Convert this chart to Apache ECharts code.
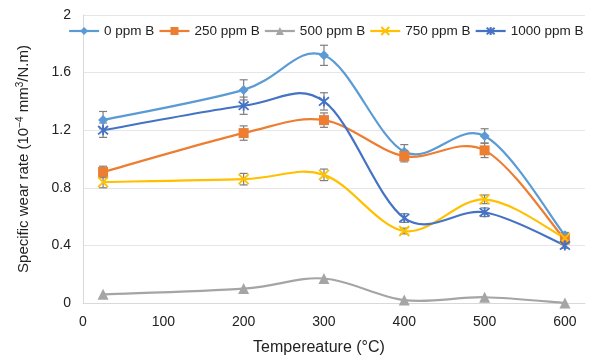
<!DOCTYPE html>
<html>
<head>
<meta charset="utf-8">
<script src="https://cdn.jsdelivr.net/npm/echarts@6/dist/echarts.min.js"></script>
<style>
html, body { margin: 0; padding: 0; background: #fff; }
#chart { width: 596px; height: 363px; }
</style>
</head>
<body>
<div id="chart"></div>
<script>
// temperatures (°C)
var temps = [25, 200, 300, 400, 500, 600];
var seriesNames = ['0 ppm B', '250 ppm B', '500 ppm B', '750 ppm B', '1000 ppm B'];

// specific wear rate (10^-4 mm3/N.m)
var wear0 = [1.27, 1.48, 1.72, 1.05, 1.16, 0.47];
var wear250 = [0.91, 1.18, 1.27, 1.02, 1.06, 0.44];
var wear500 = [0.06, 0.10, 0.17, 0.02, 0.04, 0.00];
var wear750 = [0.84, 0.86, 0.89, 0.50, 0.72, 0.45];
var wear1000 = [1.20, 1.37, 1.40, 0.59, 0.63, 0.40];

// error bar half-widths
var err0 = [0.06, 0.07, 0.07, 0.05, 0.05, 0.02];
var err250 = [0.04, 0.05, 0.05, 0.04, 0.05, 0.02];
var err500 = [0, 0, 0, 0, 0, 0];
var err750 = [0.04, 0.04, 0.04, 0.02, 0.03, 0.02];
var err1000 = [0.05, 0.06, 0.06, 0.03, 0.03, 0.02];

var colorList = ['#5B9BD5', '#ED7D31', '#A5A5A5', '#FFC000', '#4472C4'];
var symbols = [
    'diamond',
    'rect',
    'triangle',
    'path://M0,0L10,10M10,0L0,10',
    'path://M0,0L10,10M10,0L0,10M5,-1L5,11'
];
var symbolSizes = [10, 10, 11, 10, 10];
var values = [wear0, wear250, wear500, wear750, wear1000];
var errors = [err0, err250, err500, err750, err1000];

var chart = echarts.init(document.getElementById('chart'));

// smooth curve like the spreadsheet one (catmull-rom through the points)
function curveItem(vals, color) {
    return function (params, api) {
        var p = [];
        for (var i = 0; i < temps.length; i++) {
            p.push(api.coord([temps[i], vals[i]]));
        }
        var n = p.length;
        var d = 'M' + p[0][0] + ',' + p[0][1];
        for (var i = 0; i < n - 1; i++) {
            var p0 = p[Math.max(i - 1, 0)], p1 = p[i], p2 = p[i + 1], p3 = p[Math.min(i + 2, n - 1)];
            var c1x = p1[0] + (p2[0] - p0[0]) / 6, c1y = p1[1] + (p2[1] - p0[1]) / 6;
            var c2x = p2[0] - (p3[0] - p1[0]) / 6, c2y = p2[1] - (p3[1] - p1[1]) / 6;
            d += 'C' + c1x + ',' + c1y + ',' + c2x + ',' + c2y + ',' + p2[0] + ',' + p2[1];
        }
        return {
            type: 'path',
            shape: { pathData: d },
            style: { fill: 'none', stroke: color, lineWidth: 2.2 }
        };
    };
}

var series = [];
var legendData = [];
for (var s = 0; s < values.length; s++) {
    var pts = [];
    var errPts = [];
    for (var i = 0; i < temps.length; i++) {
        pts.push([temps[i], values[s][i]]);
        if (errors[s][i] > 0) {
            errPts.push([temps[i], values[s][i], errors[s][i]]);
        }
    }
    var isLineSym = s >= 3;
    legendData.push({
        name: seriesNames[s],
        lineStyle: { color: colorList[s], width: 2.2, opacity: 1 }
    });
    // markers (and legend entry)
    series.push({
        name: seriesNames[s],
        type: 'line',
        symbol: symbols[s],
        symbolSize: symbolSizes[s],
        z: 3,
        lineStyle: { color: colorList[s], width: 0, opacity: 0 },
        itemStyle: isLineSym ?
            { color: 'rgba(0,0,0,0)', borderColor: colorList[s], borderWidth: 1.8 } :
            { color: colorList[s] },
        data: pts
    });
    // smoothed curve
    series.push({
        type: 'custom',
        name: seriesNames[s],
        z: 1,
        silent: true,
        renderItem: curveItem(values[s], colorList[s]),
        data: [[temps[0], values[s][0]]]
    });
    // error bars
    series.push({
        type: 'custom',
        name: seriesNames[s],
        z: 2,
        silent: true,
        renderItem: function (params, api) {
            var x = api.value(0), y = api.value(1), e = api.value(2);
            var lo = api.coord([x, y - e]);
            var hi = api.coord([x, y + e]);
            var cap = 4;
            var st = { stroke: '#7f7f7f', lineWidth: 1.2 };
            return {
                type: 'group',
                children: [
                    { type: 'line', shape: { x1: lo[0], y1: lo[1], x2: hi[0], y2: hi[1] }, style: st },
                    { type: 'line', shape: { x1: lo[0] - cap, y1: lo[1], x2: lo[0] + cap, y2: lo[1] }, style: st },
                    { type: 'line', shape: { x1: hi[0] - cap, y1: hi[1], x2: hi[0] + cap, y2: hi[1] }, style: st }
                ]
            };
        },
        data: errPts
    });
}

var option = {
    backgroundColor: '#fff',
    animation: false,
    color: colorList,
    textStyle: { fontFamily: 'Liberation Sans, Arial, sans-serif' },
    grid: { left: 83, right: 11, top: 15, bottom: 60 },
    legend: {
        data: legendData,
        top: 24,
        left: 68,
        width: 528,
        padding: 0,
        itemWidth: 30,
        itemHeight: 10,
        itemGap: 4,
        textStyle: { fontSize: 13.5, color: '#222' }
    },
    xAxis: {
        type: 'value',
        min: 0,
        max: 625,
        interval: 100,
        name: 'Tempereature (°C)',
        nameLocation: 'middle',
        nameGap: 37,
        nameTextStyle: { fontSize: 16, color: '#222', padding: [0, 30, 0, 0] },
        axisLine: { show: true, lineStyle: { color: '#d9d9d9' } },
        axisTick: { show: false },
        splitLine: { show: false },
        axisLabel: {
            fontSize: 14, color: '#222', margin: 12,
            formatter: function (v) { return v % 100 === 0 ? String(v) : ''; }
        }
    },
    yAxis: {
        type: 'value',
        min: 0,
        max: 2,
        interval: 0.4,
        name: 'Specific wear rate (10{sup|−4} mm{sup|3}/N.m)',
        nameLocation: 'middle',
        nameGap: 50,
        nameTextStyle: {
            fontSize: 15, color: '#222',
            rich: { sup: { fontSize: 10, color: '#222', verticalAlign: 'top', lineHeight: 18 } }
        },
        axisLine: { show: true, lineStyle: { color: '#d9d9d9' } },
        axisTick: { show: false },
        splitLine: { lineStyle: { color: '#e6e6e6' } },
        axisLabel: { fontSize: 14, color: '#222', margin: 12 }
    },
    series: series
};
chart.setOption(option);
</script>
</body>
</html>
